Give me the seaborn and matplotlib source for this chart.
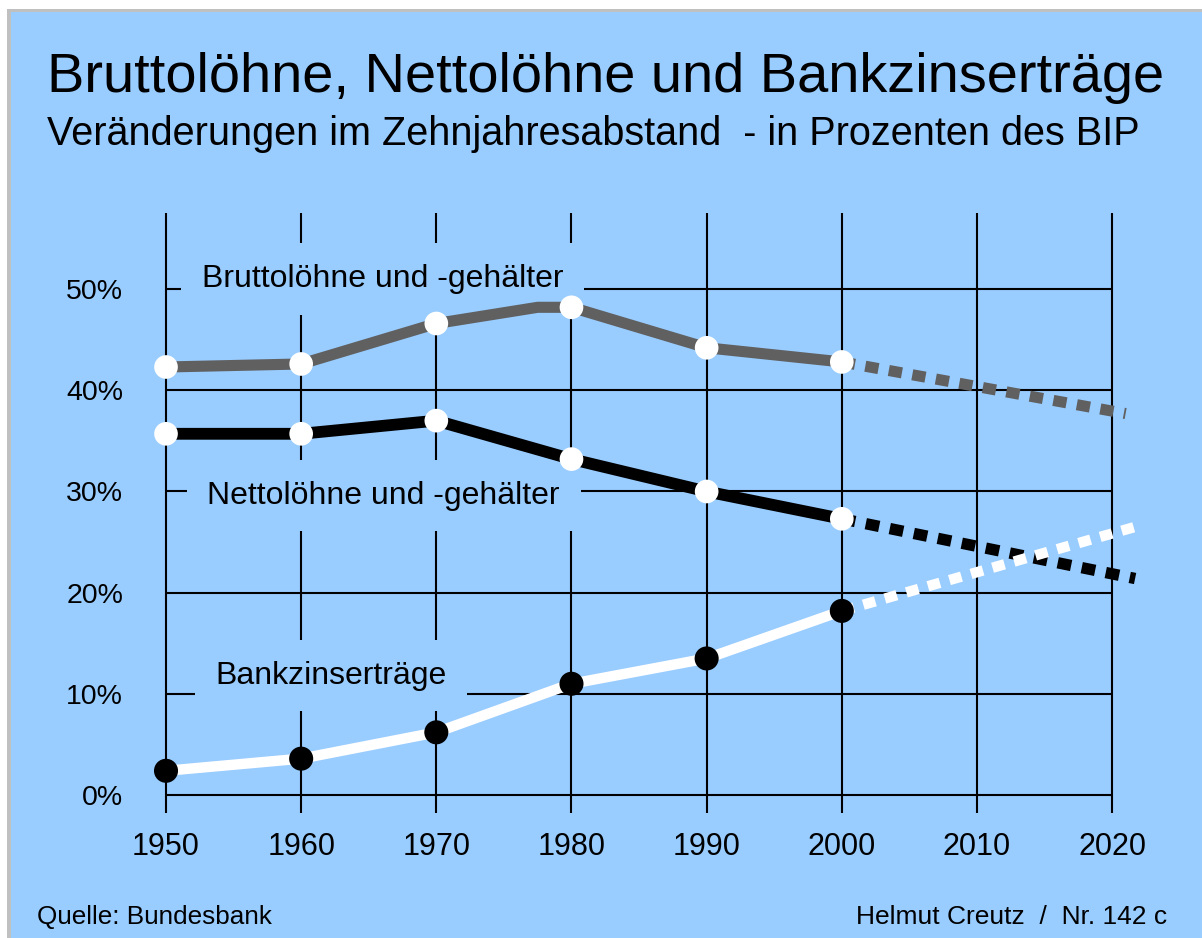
import numpy as np
import pandas as pd
import matplotlib
matplotlib.use('Agg')
import matplotlib.pyplot as plt
from matplotlib.patches import Rectangle
import seaborn as sns

plt.rcParams['font.family'] = ['Liberation Sans', 'DejaVu Sans']

# data (percent of GDP)
years = [1950, 1960, 1970, 1980, 1990, 2000]
brutto = [42.3, 42.6, 46.6, 48.2, 44.2, 42.8]
netto = [35.7, 35.7, 37.0, 33.2, 30.0, 27.3]
bank = [2.4, 3.6, 6.2, 11.0, 13.5, 18.2]

# grey line has an extra bend just before 1980
brutto_line_years = [1950, 1960, 1970, 1977.5, 1980, 1990, 2000]
brutto_line = [42.3, 42.6, 46.6, 48.2, 48.2, 44.2, 42.8]

# dotted projections
proj_years_brutto = [2000, 2021]
proj_brutto = [42.8, 37.7]
proj_years = [2000, 2021.7]
proj_netto = [27.3, 21.4]
proj_bank = [18.2, 26.5]

xticks = [1950, 1960, 1970, 1980, 1990, 2000, 2010, 2020]
yticks = [0, 10, 20, 30, 40, 50]
ytick_labels = ['0%', '10%', '20%', '30%', '40%', '50%']

bg = '#99CCFF'
grey = '#606060'

fig = plt.figure(figsize=(12.02, 9.38), dpi=100)
fig.patch.set_facecolor('white')
W, H = 1202, 938
fig.add_artist(Rectangle((7 / W, 0), 1, (H - 9) / H, transform=fig.transFigure,
                         facecolor='#C0C0C0', edgecolor='none', zorder=-3))
fig.add_artist(Rectangle((11 / W, 0), 1, (H - 12) / H, transform=fig.transFigure,
                         facecolor=bg, edgecolor='none', zorder=-2))

ax = fig.add_axes([0.11, 0.12, 0.8602, 0.6797])
ax.set_facecolor('none')
ax.set_xlim(1947.5, 2024)
ax.set_ylim(-3, 60)
for s in ax.spines.values():
    s.set_visible(False)

# grid
ax.vlines(xticks, -1.8, 57.5, color='black', lw=1.5, zorder=1)
ax.hlines(yticks, 1950, 2020, color='black', lw=1.5, zorder=1)

ax.set_xticks(xticks)
ax.set_xticklabels([str(x) for x in xticks], fontsize=22)
ax.set_yticks(yticks)
ax.set_yticklabels(ytick_labels, fontsize=20.5)
ax.tick_params(length=0)
ax.tick_params(axis='x', pad=5)
ax.tick_params(axis='y', pad=6.5)

# series labels with background boxes that cut the grid
box = dict(boxstyle='square,pad=0.65', facecolor=bg, edgecolor='none')
ax.text(1966.0, 51.0, 'Bruttolöhne und -gehälter', fontsize=23, ha='center',
        va='center', bbox=box, zorder=2)
ax.text(1966.1, 29.6, 'Nettolöhne und -gehälter', fontsize=23, ha='center',
        va='center', bbox=box, zorder=2)
ax.text(1962.2, 11.8, 'Bankzinserträge', fontsize=23, ha='center',
        va='center', bbox=box, zorder=2)

# projections
for px, py, c, lw in [(proj_years_brutto, proj_brutto, grey, 8),
                      (proj_years, proj_netto, 'black', 8.2),
                      (proj_years, proj_bank, 'white', 7.5)]:
    sns.lineplot(x=px, y=py, ax=ax, color=c, lw=lw, sort=False, estimator=None,
                 dashes=False, zorder=3)
    ax.lines[-1].set_dashes([1.2, 0.95])
    ax.lines[-1].set_dash_capstyle('butt')

# actual series
sns.lineplot(x=brutto_line_years, y=brutto_line, ax=ax, color=grey, lw=8,
             sort=False, estimator=None, zorder=4)
sns.lineplot(x=years, y=netto, ax=ax, color='black', lw=8.5,
             sort=False, estimator=None, zorder=4)
sns.lineplot(x=years, y=bank, ax=ax, color='white', lw=7.5,
             sort=False, estimator=None, zorder=4)

sns.scatterplot(x=years, y=brutto, ax=ax, color='white', s=290,
                edgecolor='none', zorder=5)
sns.scatterplot(x=years, y=netto, ax=ax, color='white', s=290,
                edgecolor='none', zorder=5)
sns.scatterplot(x=years, y=bank, ax=ax, color='black', s=300,
                edgecolor='none', zorder=5)

ax.set_xlabel('')
ax.set_ylabel('')

fig.text(47 / W, 1 - 78 / H, 'Bruttolöhne, Nettolöhne und Bankzinserträge',
         fontsize=40.3, ha='left', va='center')
fig.text(47 / W, 1 - 134 / H,
         'Veränderungen im Zehnjahresabstand  - in Prozenten des BIP',
         fontsize=28.5, ha='left', va='center')
fig.text(37 / W, 1 - 917 / H, 'Quelle: Bundesbank', fontsize=18.8,
         ha='left', va='center')
fig.text(1167 / W, 1 - 917 / H, 'Helmut Creutz  /  Nr. 142 c', fontsize=19,
         ha='right', va='center')

fig.savefig('out.png', dpi=100, facecolor=fig.get_facecolor())
